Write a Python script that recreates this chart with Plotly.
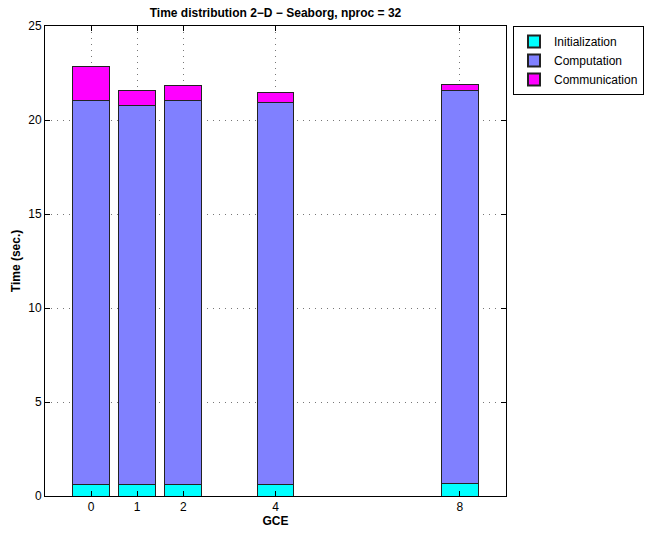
import plotly.graph_objects as go

gce = [0, 1, 2, 4, 8]
initialization = [0.62, 0.62, 0.62, 0.62, 0.65]
computation = [20.41, 20.14, 20.43, 20.32, 20.93]
communication = [1.81, 0.82, 0.79, 0.50, 0.32]

series = [
    ("Initialization", initialization, "#00FFFF"),
    ("Computation", computation, "#8080FF"),
    ("Communication", communication, "#FF00FF"),
]

FONT = "Liberation Sans, Arial, Helvetica, sans-serif"

fig = go.Figure()
for name, vals, col in series:
    fig.add_trace(go.Bar(
        x=gce, y=vals, name=name, width=0.8,
        marker=dict(color=col, line=dict(color="#222222", width=1)),
    ))

axis_common = dict(
    showline=True, linecolor="black", linewidth=1, mirror="ticks",
    ticks="inside", ticklen=5, tickcolor="black",
    showgrid=True, gridcolor="#777777", griddash="1px,5px", gridwidth=1,
    zeroline=False, tickfont=dict(family=FONT, size=12, color="black"),
)

fig.update_layout(
    barmode="stack",
    width=645, height=536,
    margin=dict(l=45, r=139, t=26, b=40, autoexpand=False),
    paper_bgcolor="white", plot_bgcolor="white",
    font=dict(family=FONT, size=12, color="black"),
    title=dict(text="<b>Time distribution 2\u2212D \u2212 Seaborg, nproc = 32</b>",
               x=(45 + 506) / 2 / 645, xanchor="center", y=1 - 13 / 536, yanchor="middle",
               font=dict(family=FONT, size=12, color="black")),
    xaxis=dict(range=[-1, 9], tickvals=gce, ticktext=[str(v) for v in gce],
               title=dict(text="<b>GCE</b>", standoff=3, font=dict(family=FONT, size=12)),
               **axis_common),
    yaxis=dict(range=[0, 25], dtick=5, tick0=0,
               title=dict(text="<b>Time (sec.)</b>", standoff=5, font=dict(family=FONT, size=12)),
               **axis_common),
    legend=dict(x=(513 - 45) / 461, xanchor="left", y=1.0, yanchor="top",
                bordercolor="black", borderwidth=1, bgcolor="white",
                font=dict(family=FONT, size=12, color="black"),
                traceorder="normal", tracegroupgap=0, itemsizing="constant",
                itemwidth=30),
    showlegend=True,
)

fig.write_html("out.html")
